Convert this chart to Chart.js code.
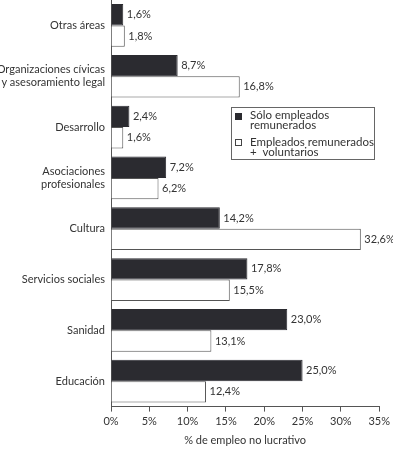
<!DOCTYPE html>
<html>
<head>
<meta charset="utf-8">
<script src="https://cdn.jsdelivr.net/npm/chart.js@4"></script>
<style>
    html, body { margin: 0; padding: 0; background: #fff; }
    #wrap { width: 393px; height: 449px; }
</style>
</head>
<body>
<div id="wrap"><canvas id="chart"></canvas></div>
<script>
const categories = [
    'Otras áreas',
    ['Organizaciones cívicas', 'y asesoramiento legal'],
    'Desarrollo',
    ['Asociaciones', 'profesionales'],
    'Cultura',
    'Servicios sociales',
    'Sanidad',
    'Educación'
];
const soloEmpleados = [1.6, 8.7, 2.4, 7.2, 14.2, 17.8, 23.0, 25.0];
const conVoluntarios = [1.8, 16.8, 1.6, 6.2, 32.6, 15.5, 13.1, 12.4];
const seriesNames = ['Sólo empleados remunerados', 'Empleados remunerados + voluntarios'];
const legendLines = [['Sólo empleados', 'remunerados'], ['Empleados remunerados', '+  voluntarios']];
const xTicks = [0, 5, 10, 15, 20, 25, 30, 35];

const FONT = 'Lato, "Open Sans", sans-serif';
const TEXT = '#333';

// étiquettes de valeur au bout des barres
const valueLabels = {
    id: 'valueLabels',
    afterDatasetsDraw(chart) {
        const ctx = chart.ctx;
        ctx.save();
        ctx.font = '11px ' + FONT;
        ctx.fillStyle = TEXT;
        ctx.textBaseline = 'middle';
        chart.data.datasets.forEach((ds, i) => {
            chart.getDatasetMeta(i).data.forEach((bar, j) => {
                const txt = ds.data[j].toFixed(1).replace('.', ',') + '%';
                ctx.fillText(txt, bar.x + 3.5, bar.y);
            });
        });
        ctx.restore();
    }
};

// légende encadrée dans la zone du graphique
const boxLegend = {
    id: 'boxLegend',
    afterDraw(chart) {
        const ctx = chart.ctx;
        const x = 231, y = 107, w = 143, h = 52;
        ctx.save();
        ctx.strokeStyle = '#666';
        ctx.lineWidth = 1;
        ctx.strokeRect(x + 0.5, y + 0.5, w, h);
        ctx.font = '11.5px ' + FONT;
        ctx.textBaseline = 'middle';
        // carré noir
        ctx.fillStyle = '#2b2b30';
        ctx.fillRect(x + 4, y + 6, 7, 7);
        ctx.fillStyle = TEXT;
        ctx.fillText(legendLines[0][0], x + 19, y + 8);
        ctx.fillText(legendLines[0][1], x + 19, y + 18);
        // carré blanc
        ctx.strokeStyle = '#444';
        ctx.strokeRect(x + 4.5, y + 32.5, 6, 6);
        ctx.fillText(legendLines[1][0], x + 19, y + 35);
        ctx.fillText(legendLines[1][1], x + 19, y + 45);
        ctx.restore();
    }
};

new Chart(document.getElementById('chart').getContext('2d'), {
    type: 'bar',
    data: {
        labels: categories,
        datasets: [{
            label: seriesNames[0],
            data: soloEmpleados,
            backgroundColor: '#2b2b30',
            borderColor: '#2b2b30',
            borderWidth: 1
        }, {
            label: seriesNames[1],
            data: conVoluntarios,
            backgroundColor: '#ffffff',
            borderColor: '#555',
            borderWidth: 1
        }]
    },
    options: {
        indexAxis: 'y',
        responsive: true,
        maintainAspectRatio: false,
        animation: false,
        categoryPercentage: 0.84,
        barPercentage: 1.0,
        layout: { padding: { top: 0, right: 0, bottom: 2, left: 0 } },
        plugins: {
            legend: { display: false },
            tooltip: { enabled: false }
        },
        scales: {
            x: {
                min: 0,
                max: 35,
                afterBuildTicks: s => { s.ticks = xTicks.map(v => ({ value: v })); },
                ticks: {
                    callback: v => v + '%',
                    font: { family: FONT, size: 11 },
                    color: TEXT,
                    maxRotation: 0,
                    padding: 3
                },
                grid: { display: true, drawOnChartArea: false, drawTicks: true, tickLength: 5, color: '#555' },
                border: { display: true, color: '#555' },
                title: {
                    display: true,
                    text: '% de empleo no lucrativo',
                    font: { family: FONT, size: 11 },
                    color: TEXT,
                    padding: { top: 3, bottom: 0 }
                }
            },
            y: {
                afterFit: s => {
                    s.width = 111;
                    s.paddingTop = 0;
                    s.paddingBottom = 0;
                },
                ticks: {
                    font: { family: FONT, size: 11 },
                    color: TEXT,
                    padding: 6
                },
                grid: { display: false, drawTicks: false },
                border: { display: true, color: '#555' }
            }
        }
    },
    plugins: [valueLabels, boxLegend]
});
</script>
</body>
</html>
